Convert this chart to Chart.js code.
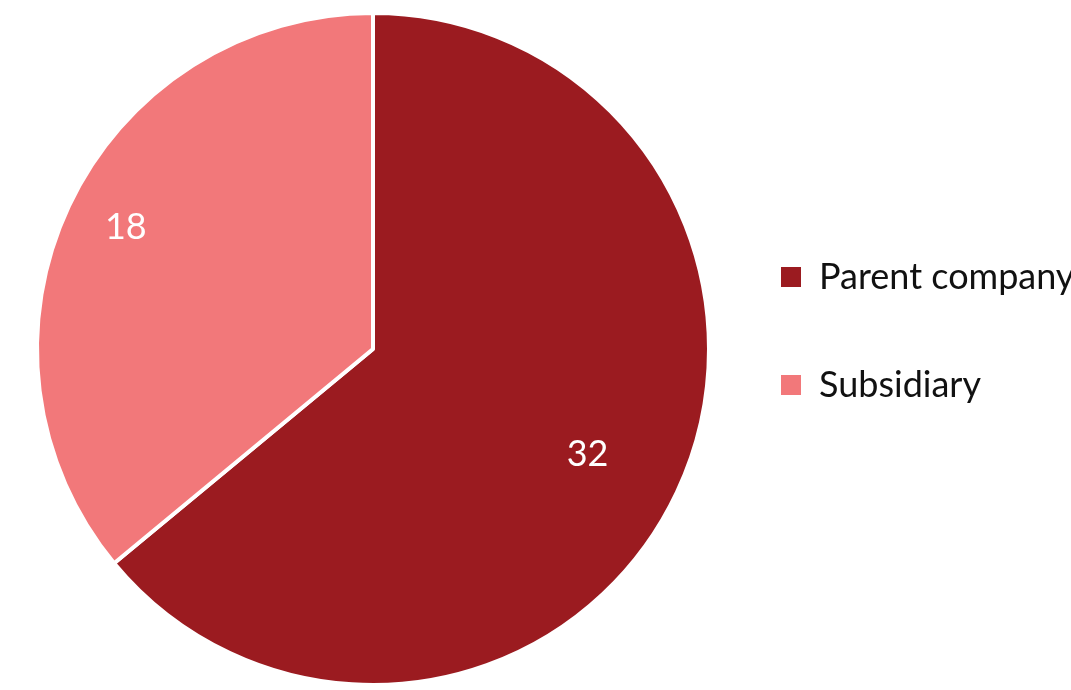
<!DOCTYPE html>
<html>
<head>
<meta charset="utf-8">
<script src="https://cdn.jsdelivr.net/npm/chart.js@4.4.0/dist/chart.umd.min.js"></script>
<style>
  html, body { margin: 0; padding: 0; background: #fff; overflow: hidden; }
  #wrap { width: 1071px; height: 690px; position: relative; }
</style>
</head>
<body>
<div id="wrap"><canvas id="myChart"></canvas></div>
<script>
const categories = ['Parent company', 'Subsidiary'];
const counts = [32, 18];
const sliceColors = ['#9b1b20', '#f2787a'];

// white numbers inside the slices
const sliceLabels = {
    id: 'sliceLabels',
    afterDatasetsDraw(chart, args, opts) {
        const ctx = chart.ctx;
        const meta = chart.getDatasetMeta(0);
        ctx.save();
        ctx.fillStyle = '#fff';
        ctx.font = opts.font;
        ctx.textAlign = 'center';
        ctx.textBaseline = 'middle';
        meta.data.forEach((arc, i) => {
            const p = arc.getProps(['x', 'y', 'startAngle', 'endAngle', 'outerRadius'], true);
            const mid = (p.startAngle + p.endAngle) / 2 + opts.turn;
            const r = p.outerRadius * opts.radius[i];
            ctx.fillText(String(counts[i]), p.x + Math.cos(mid) * r, p.y + Math.sin(mid) * r);
        });
        ctx.restore();
    }
};

// move the legend block up a bit
const legendNudge = {
    id: 'legendNudge',
    afterLayout(chart, args, opts) {
        if (chart.legend) {
            chart.legend.top += opts.dy;
            chart.legend.bottom += opts.dy;
        }
    }
};

const ctx = document.getElementById('myChart').getContext('2d');
const myChart = new Chart(ctx, {
    type: 'pie',
    data: {
        labels: categories,
        datasets: [{
            data: counts,
            backgroundColor: sliceColors,
            borderColor: '#ffffff',
            borderWidth: 4
        }]
    },
    options: {
        responsive: true,
        maintainAspectRatio: false,
        animation: false,
        radius: 336,
        layout: {
            padding: { left: 37, top: 13, bottom: 5, right: 0 }
        },
        plugins: {
            tooltip: { enabled: false },
            legend: {
                position: 'right',
                maxWidth: 362,
                labels: {
                    boxWidth: 20,
                    boxHeight: 20,
                    padding: 72,
                    color: '#111',
                    font: { family: 'Lato', size: 36 },
                    generateLabels(chart) {
                        const items = Chart.overrides.pie.plugins.legend.labels.generateLabels(chart);
                        items.forEach(it => { it.lineWidth = 0; });
                        return items;
                    }
                }
            },
            legendNudge: { dy: -18 },
            sliceLabels: {
                font: '36px Lato',
                radius: [0.712, 0.82],
                turn: 0.018
            }
        }
    },
    plugins: [sliceLabels, legendNudge]
});
</script>
</body>
</html>
